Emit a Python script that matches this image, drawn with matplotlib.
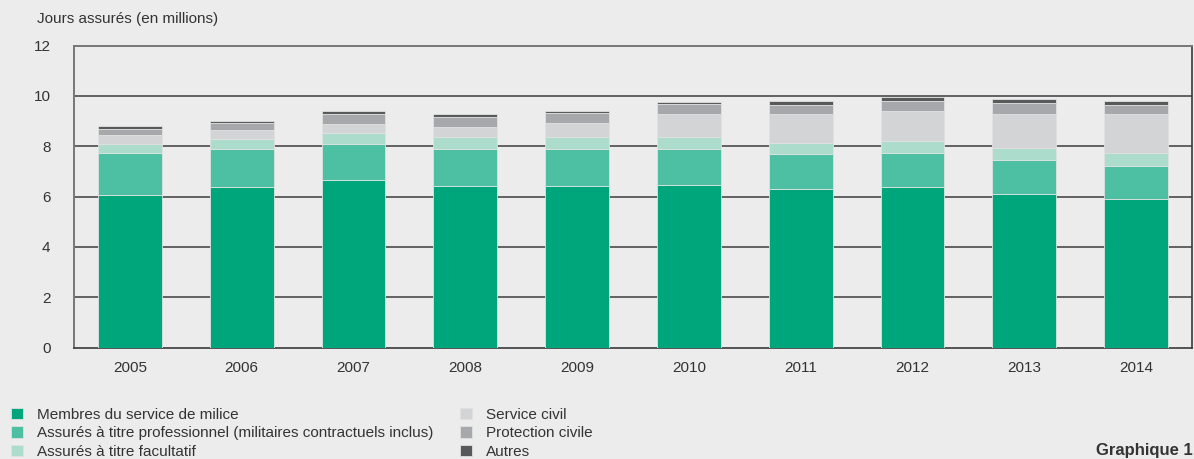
import numpy as np
import matplotlib
matplotlib.use('Agg')
import matplotlib.pyplot as plt

years = ['2005', '2006', '2007', '2008', '2009', '2010', '2011', '2012', '2013', '2014']

# jours assurés en millions, par catégorie
milice = [6.06, 6.36, 6.64, 6.43, 6.43, 6.46, 6.31, 6.38, 6.11, 5.90]
professionnel = [1.68, 1.53, 1.46, 1.47, 1.47, 1.44, 1.38, 1.33, 1.34, 1.32]
facultatif = [0.36, 0.39, 0.42, 0.46, 0.46, 0.46, 0.45, 0.49, 0.49, 0.51]
service_civil = [0.34, 0.36, 0.37, 0.41, 0.56, 0.90, 1.12, 1.20, 1.35, 1.53]
protection_civile = [0.23, 0.27, 0.37, 0.39, 0.38, 0.40, 0.39, 0.39, 0.41, 0.37]
autres = [0.13, 0.10, 0.14, 0.11, 0.10, 0.11, 0.13, 0.17, 0.16, 0.18]

labels = ['Membres du service de milice',
          'Assurés à titre professionnel (militaires contractuels inclus)',
          'Assurés à titre facultatif',
          'Service civil',
          'Protection civile',
          'Autres']
colors = ['#00a67b', '#4dbfa3', '#abdccc', '#d3d4d6', '#a7a8ab', '#58595b']

bg = '#ebeceb'
txt = '#333333'
plt.rcParams['font.family'] = ['Liberation Sans', 'DejaVu Sans']

fig = plt.figure(figsize=(11.94, 4.59), dpi=100, facecolor=bg)
ax = fig.add_axes([74 / 1194, 1 - 347.5 / 459, 1118 / 1194, 302 / 459])
ax.set_facecolor(bg)

series = [milice, professionnel, facultatif, service_civil, protection_civile, autres]
x = np.arange(len(years))
bottom = np.zeros(len(years))
handles = []
for vals, col, lab in zip(series, colors, labels):
    b = ax.bar(x, vals, width=0.57, bottom=bottom, color=col, edgecolor='#dfe2e0',
               linewidth=0.6, label=lab, zorder=3)
    handles.append(b)
    bottom += np.array(vals)

ax.set_xlim(-0.5, len(years) - 0.5)
ax.set_ylim(0, 12)
ax.set_yticks(range(0, 13, 2))
ax.set_xticks(x)
ax.set_xticklabels(years)
ax.tick_params(length=0, labelsize=11, colors=txt)
ax.tick_params(axis='x', pad=10)
ax.tick_params(axis='y', pad=17)

for v in [2, 4, 6, 8, 10]:
    ax.axhline(v, color='#4a4a4a', linewidth=1.2, zorder=1)

for side in ['top', 'left']:
    ax.spines[side].set_color('#777777')
    ax.spines[side].set_linewidth(1.4)
for side in ['bottom', 'right']:
    ax.spines[side].set_color('#3a3a3a')
    ax.spines[side].set_linewidth(1.2)

fig.text(37 / 1194, 1 - 19 / 459, 'Jours assurés (en millions)', fontsize=11,
         color=txt, va='center', ha='left')

fig.legend(handles=handles, loc='upper left', bbox_to_anchor=(5 / 1194, 1 - 402 / 459),
           ncol=2, frameon=False, fontsize=11, labelcolor=txt,
           handlelength=0.75, handleheight=0.75, handletextpad=0.95,
           columnspacing=1.75, labelspacing=0.28, borderaxespad=0)

fig.text(1193 / 1194, 1 - 451 / 459, 'Graphique 1', fontsize=12, fontweight='bold',
         color=txt, va='center', ha='right')

fig.savefig('out.png', dpi=100, facecolor=bg)
